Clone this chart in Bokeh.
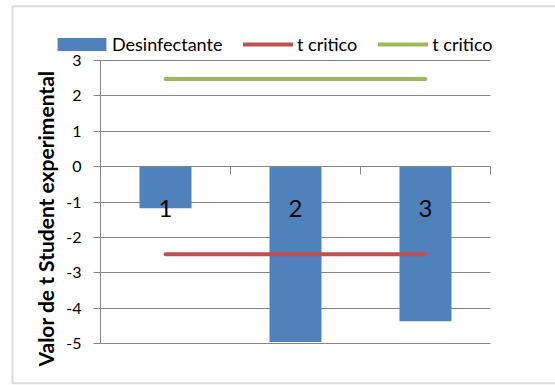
from bokeh.plotting import figure
from bokeh.models import (Range1d, FixedTicker, LinearAxis, Legend, LegendItem,
                          Label, BoxAnnotation, Grid, ColumnDataSource)
from bokeh.core.properties import value
from bokeh.embed import file_html
from bokeh.resources import INLINE
import math

# ---- data ----
categories = [1, 2, 3]
category_labels = ["1", "2", "3"]
desinfectante = [-1.18, -4.96, -4.37]
t_critico_neg = [-2.48, -2.48, -2.48]
t_critico_pos = [2.48, 2.48, 2.48]
y_ticks = [-5, -4, -3, -2, -1, 0, 1, 2, 3]
x_boundaries = [0.5, 1.5, 2.5, 3.5]

BLUE = "#4F81BD"
RED = "#C0504D"
GREEN = "#9BBB59"
GRAY = "#868686"
FONT = "Lato"

W, H = 555, 385
# plot area in pixels: x 100..490, y 60..343
PX_X = 130.0           # pixels per category
PX_Y = 283.0 / 8.0     # pixels per unit of t
x0 = 0.5 - 100 / PX_X
x1 = x0 + W / PX_X
y1 = 3 + 60 / PX_Y
y0 = y1 - H / PX_Y

def px_x(px):
    return x0 + px / PX_X

def px_y(py):
    return y1 - py / PX_Y

p = figure(width=W, height=H, output_backend="svg", toolbar_location=None,
           x_range=Range1d(x0, x1), y_range=Range1d(y0, y1),
           x_axis_type=None, y_axis_type=None,
           min_border=0, min_border_left=0, min_border_right=0,
           min_border_top=0, min_border_bottom=0)
p.outline_line_color = None
p.background_fill_color = "white"
p.border_fill_color = "white"

src = ColumnDataSource(dict(x=categories, top=desinfectante, lab=category_labels,
                            neg=t_critico_neg, pos=t_critico_pos,
                            zero=[0, 0, 0]))

# horizontal grid lines limited to the plot area
if "cross_bounds" in Grid.properties():
    p.add_layout(Grid(dimension=1, ticker=FixedTicker(ticks=y_ticks),
                      cross_bounds=(0.5, 3.5), grid_line_color=GRAY,
                      grid_line_width=1))
else:
    gsrc = ColumnDataSource(dict(y=y_ticks))
    p.segment(x0=0.5, x1=3.5, y0="y", y1="y", source=gsrc,
              line_color=GRAY, line_width=1)

bars = p.vbar(x="x", top="top", bottom=0, width=0.4, source=src,
              fill_color=BLUE, line_color=None)
l_red = p.line(x="x", y="neg", source=src, line_color=RED, line_width=4,
               line_cap="round")
l_green = p.line(x="x", y="pos", source=src, line_color=GREEN, line_width=4,
                 line_cap="round")

p.text(x="x", y="zero", text="lab", source=src, text_align="center",
       text_baseline="alphabetic", y_offset=42, text_font=value(FONT),
       text_font_size="24px", text_color="black")

# y axis (fixed at left edge of plot area)
ya = LinearAxis(ticker=FixedTicker(ticks=y_ticks), fixed_location=0.5,
                bounds=(-5, 3))
ya.major_label_overrides = {t: str(t) for t in y_ticks}
ya.axis_line_color = GRAY
ya.major_tick_line_color = GRAY
ya.major_tick_out = 7
ya.major_tick_in = 0
ya.minor_tick_line_color = None
ya.major_label_text_font = FONT
ya.major_label_text_font_size = "16px"
ya.major_label_text_color = "black"
ya.major_label_standoff = 12
p.add_layout(ya, "left")

# x axis at zero (category boundary ticks, no labels)
xa = LinearAxis(ticker=FixedTicker(ticks=x_boundaries), fixed_location=0,
                bounds=(0.5, 3.5))
xa.axis_line_color = GRAY
xa.major_tick_line_color = GRAY
xa.major_tick_out = 8
xa.major_tick_in = 0
xa.minor_tick_line_color = None
xa.major_label_text_color = None
xa.major_label_overrides = {t: " " for t in x_boundaries}
p.add_layout(xa, "below")

# y axis title
p.add_layout(Label(x=px_x(45), y=px_y(218), text="Valor de t Student experimental",
                   angle=math.pi / 2, text_align="center", text_baseline="middle",
                   text_font=FONT, text_font_style="bold", text_font_size="21px",
                   text_color="black"))

legend_style = dict(orientation="horizontal", padding=0, margin=0,
                    border_line_color=None, background_fill_alpha=0,
                    label_text_font=FONT, label_text_font_size="18px",
                    label_text_color="black")

legend_bar = Legend(items=[LegendItem(label="Desinfectante", renderers=[bars])],
                    location=(51, H - 55), glyph_width=61, glyph_height=16,
                    label_standoff=-1, **legend_style)
legend_lines = Legend(items=[LegendItem(label="t critico", renderers=[l_red]),
                             LegendItem(label="t critico", renderers=[l_green])],
                      location=(243, H - 55), glyph_width=50, glyph_height=16,
                      label_standoff=4, spacing=21, **legend_style)
p.add_layout(legend_bar, "center")
p.add_layout(legend_lines, "center")

# chart border
p.add_layout(BoxAnnotation(left=px_x(12), right=x1 + 1, top=px_y(5.7),
                           bottom=px_y(382.8), fill_alpha=0,
                           line_color="#8C8C8C", line_width=2))

open("out.html", "w").write(file_html(p, INLINE))
